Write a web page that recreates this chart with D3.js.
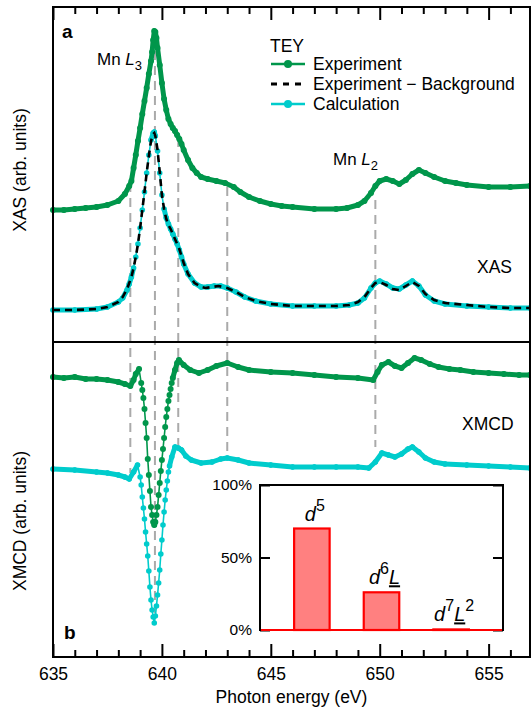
<!DOCTYPE html>
<html>
<head>
<meta charset="utf-8">
<script src="https://cdn.jsdelivr.net/npm/d3@7"></script>
<style>
  body { margin: 0; background: #fff; }
  svg text { font-family: "Liberation Sans", Arial, sans-serif; fill: #000; }
</style>
</head>
<body>
<svg id="chart" width="531" height="709"></svg>
<script>
// ---- data: [photon energy (eV), intensity (arb. units, offset as plotted)]
var xasExperiment = [[635,1.00],[635.5,1.00],[636,1.01],[636.5,1.02],[637,1.03],[637.5,1.05],[638,1.09],[638.3,1.16],[638.5,1.24],[638.6,1.29],[638.7,1.42],[638.8,1.55],[638.9,1.69],[639,1.82],[639.1,1.96],[639.2,2.09],[639.3,2.22],[639.4,2.36],[639.5,2.49],[639.55,2.58],[639.6,2.70],[639.65,2.79],[639.7,2.78],[639.75,2.72],[639.8,2.62],[639.9,2.45],[640,2.27],[640.1,2.11],[640.2,2.00],[640.3,1.91],[640.4,1.86],[640.5,1.82],[640.6,1.79],[640.7,1.75],[640.8,1.71],[640.9,1.66],[641,1.60],[641.2,1.50],[641.4,1.42],[641.6,1.37],[641.8,1.33],[642.1,1.31],[642.5,1.29],[642.9,1.27],[643.3,1.23],[643.6,1.18],[644,1.13],[644.5,1.09],[645,1.06],[645.5,1.04],[646,1.03],[647,1.01],[648,1.01],[648.5,1.02],[649,1.05],[649.3,1.09],[649.6,1.17],[649.8,1.24],[650,1.29],[650.3,1.31],[650.6,1.29],[650.9,1.26],[651.2,1.30],[651.5,1.36],[651.8,1.40],[652.1,1.37],[652.5,1.33],[653,1.29],[653.5,1.27],[654,1.25],[655,1.23],[656,1.23],[656.9,1.24]];

var xasBackground = [[635,0.00],[636,0.00],[637,0.01],[637.5,0.03],[638,0.08],[638.2,0.13],[638.4,0.21],[638.5,0.27],[638.6,0.33],[638.7,0.42],[638.8,0.53],[638.9,0.66],[639,0.82],[639.1,1.00],[639.2,1.18],[639.3,1.37],[639.4,1.54],[639.5,1.69],[639.6,1.76],[639.65,1.77],[639.7,1.74],[639.8,1.60],[639.9,1.38],[640,1.15],[640.1,1.01],[640.2,0.91],[640.3,0.85],[640.4,0.81],[640.5,0.76],[640.6,0.71],[640.7,0.66],[640.8,0.61],[640.9,0.54],[641,0.47],[641.2,0.36],[641.5,0.27],[641.8,0.23],[642,0.22],[642.3,0.23],[642.6,0.24],[643,0.22],[643.4,0.18],[643.8,0.13],[644.3,0.09],[645,0.06],[646,0.04],[647,0.04],[648,0.04],[648.6,0.05],[649,0.08],[649.3,0.13],[649.6,0.22],[649.8,0.27],[650,0.28],[650.3,0.25],[650.6,0.21],[650.9,0.20],[651.2,0.24],[651.5,0.28],[651.8,0.24],[652.1,0.16],[652.5,0.10],[653,0.07],[654,0.05],[655,0.03],[656,0.02],[656.9,0.02]];

var xasCalculation = [[635,0.00],[636,0.00],[637,0.01],[637.5,0.03],[638,0.08],[638.2,0.12],[638.4,0.20],[638.5,0.26],[638.6,0.33],[638.7,0.42],[638.8,0.53],[638.9,0.66],[639,0.82],[639.1,1.00],[639.2,1.18],[639.3,1.37],[639.4,1.55],[639.5,1.70],[639.6,1.77],[639.65,1.78],[639.7,1.74],[639.8,1.59],[639.9,1.37],[640,1.15],[640.1,1.01],[640.2,0.92],[640.3,0.86],[640.4,0.81],[640.5,0.76],[640.6,0.71],[640.7,0.66],[640.8,0.60],[640.9,0.53],[641,0.46],[641.2,0.36],[641.5,0.27],[641.8,0.23],[642.1,0.23],[642.4,0.24],[642.7,0.24],[643,0.22],[643.4,0.18],[643.8,0.13],[644.3,0.09],[645,0.06],[646,0.04],[647,0.04],[648,0.04],[648.6,0.05],[649,0.07],[649.3,0.12],[649.6,0.22],[649.8,0.27],[650,0.29],[650.3,0.26],[650.6,0.22],[650.9,0.21],[651.2,0.25],[651.5,0.29],[651.8,0.24],[652.1,0.15],[652.5,0.09],[653,0.06],[654,0.04],[655,0.03],[656,0.02],[656.9,0.02]];

var xmcdExperiment = [[635,0.92],[635.5,0.91],[636,0.92],[636.5,0.90],[637,0.90],[637.5,0.89],[638,0.87],[638.3,0.85],[638.55,0.83],[638.7,0.89],[638.8,0.95],[638.95,1.00],[639.05,0.86],[639.1,0.79],[639.15,0.71],[639.2,0.60],[639.25,0.46],[639.3,0.31],[639.35,0.10],[639.4,-0.06],[639.45,-0.22],[639.5,-0.38],[639.55,-0.46],[639.6,-0.53],[639.65,-0.56],[639.7,-0.53],[639.75,-0.46],[639.8,-0.38],[639.85,-0.26],[639.9,-0.14],[639.95,-0.02],[640,0.09],[640.05,0.20],[640.1,0.31],[640.15,0.42],[640.2,0.52],[640.25,0.60],[640.3,0.68],[640.35,0.74],[640.4,0.80],[640.45,0.86],[640.5,0.91],[640.6,0.99],[640.7,1.06],[640.78,1.09],[641,1.04],[641.3,0.99],[641.7,0.96],[642.1,0.99],[642.5,1.03],[643,1.06],[643.5,1.02],[644,0.99],[645,0.97],[646,0.96],[647,0.94],[648,0.92],[649,0.91],[649.7,0.89],[649.9,0.97],[650.1,1.04],[650.4,1.07],[650.7,1.03],[651,1.01],[651.3,1.06],[651.6,1.11],[651.9,1.09],[652.3,1.05],[652.7,1.02],[653.2,1.00],[653.7,0.99],[654.3,0.97],[655,0.96],[655.7,0.95],[656.4,0.94],[656.9,0.94]];

var xmcdCalculation = [[635,0.00],[636,-0.01],[637,-0.03],[637.5,-0.04],[638,-0.06],[638.3,-0.08],[638.5,-0.10],[638.7,-0.03],[638.88,0.04],[639,-0.08],[639.05,-0.16],[639.1,-0.28],[639.15,-0.39],[639.2,-0.50],[639.25,-0.63],[639.3,-0.75],[639.35,-0.87],[639.4,-1.02],[639.45,-1.18],[639.5,-1.31],[639.55,-1.41],[639.6,-1.48],[639.65,-1.54],[639.7,-1.47],[639.75,-1.37],[639.8,-1.26],[639.85,-1.14],[639.9,-1.01],[639.95,-0.85],[640,-0.71],[640.05,-0.56],[640.1,-0.43],[640.15,-0.31],[640.2,-0.21],[640.25,-0.12],[640.3,-0.03],[640.35,0.03],[640.45,0.12],[640.6,0.22],[640.75,0.21],[640.9,0.19],[641.1,0.13],[641.35,0.09],[641.8,0.06],[642.3,0.07],[642.7,0.10],[643,0.11],[643.5,0.09],[644,0.06],[645,0.04],[646,0.02],[647,0.02],[648,0.02],[649,0.02],[649.5,0.01],[649.8,0.07],[650.1,0.16],[650.4,0.14],[650.7,0.12],[651,0.15],[651.3,0.20],[651.5,0.22],[651.8,0.17],[652.1,0.11],[652.5,0.07],[653,0.05],[654,0.04],[655,0.03],[656,0.02],[656.9,0.01]];

// vertical guide lines: energy, top (XAS units), bottom (XMCD units)
var guideEnergies = [638.55, 639.68, 640.75, 643.0, 649.8];
var guideTops = [1.27, 2.74, 1.72, 1.23, 1.10];
var guideBottoms = [-0.04, -1.44, 0.24, 0.16, 0.22];

// inset: configuration weights
var configNames = ["d5", "d6L", "d7L2"];
var configWeights = [0.70, 0.26, 0.004];
var configLabels = [
  [["d", "base"], ["5", "sup"]],
  [["d", "base"], ["6", "sup"], ["L", "under"]],
  [["d", "base"], ["7", "sup"], ["L", "under"], ["2", "sup"]]
];
var insetTicks = [0, 0.5, 1];

var majorTicks = [635, 640, 645, 650, 655];
var minorTicks = d3.range(636, 657, 1).filter(function(d) { return d % 5 != 0; });

var green = "#00964b", cyan = "#00cccc";

// ---- layout
var plotL = 53, plotR = 530, plotT = 7, plotB = 657, plotSplit = 342;
var svg = d3.select("#chart");

var x = d3.scaleLinear().domain([635, 656.9]).range([plotL, plotR]);
var yA = d3.scaleLinear().domain([-0.32, 3.03]).range([plotSplit, plotT]);
var yB = d3.scaleLinear().domain([-1.88, 1.27]).range([plotB, plotSplit]);

// guides (behind curves)
svg.append("g").selectAll("line")
  .data(guideEnergies)
  .enter().append("line")
  .attr("x1", function(d) { return x(d); })
  .attr("x2", function(d) { return x(d); })
  .attr("y1", function(d, i) { return yA(guideTops[i]); })
  .attr("y2", function(d, i) { return yB(guideBottoms[i]); })
  .attr("stroke", "#aaa")
  .attr("stroke-width", 2)
  .attr("stroke-dasharray", "9,6");

// draws a dotted-data curve: thick where points are dense, thin between spread points
function drawSeries(data, y, color, steep, r) {
  var pts = data.map(function(d) { return [x(d[0]), y(d[1])]; });
  var g = svg.append("g");
  g.selectAll("line")
    .data(d3.pairs(pts))
    .enter().append("line")
    .attr("x1", function(d) { return d[0][0]; })
    .attr("y1", function(d) { return d[0][1]; })
    .attr("x2", function(d) { return d[1][0]; })
    .attr("y2", function(d) { return d[1][1]; })
    .attr("stroke", color)
    .attr("stroke-linecap", "round")
    .attr("stroke-width", function(d) {
      var s = Math.abs((d[1][1] - d[0][1]) / (d[1][0] - d[0][0]));
      return s > steep ? 1.6 : 5;
    });
  g.selectAll("circle")
    .data(pts)
    .enter().append("circle")
    .attr("cx", function(d) { return d[0]; })
    .attr("cy", function(d) { return d[1]; })
    .attr("r", r)
    .attr("fill", color);
}

drawSeries(xasExperiment, yA, green, Infinity, 3);
drawSeries(xasCalculation, yA, cyan, 4.5, 2.8);

svg.append("path")
  .datum(xasBackground)
  .attr("fill", "none")
  .attr("stroke", "#000")
  .attr("stroke-width", 2.6)
  .attr("stroke-dasharray", "7,5")
  .attr("d", d3.line().x(function(d) { return x(d[0]); }).y(function(d) { return yA(d[1]); }));

drawSeries(xmcdExperiment, yB, green, 4.5, 3);
drawSeries(xmcdCalculation, yB, cyan, 4.5, 2.8);

// ---- frame, divider and axes
svg.append("rect")
  .attr("x", plotL).attr("y", plotT)
  .attr("width", plotR - plotL).attr("height", plotB - plotT)
  .attr("fill", "none").attr("stroke", "#000").attr("stroke-width", 2);

svg.append("line")
  .attr("x1", plotL).attr("x2", plotR)
  .attr("y1", plotSplit).attr("y2", plotSplit)
  .attr("stroke", "#000").attr("stroke-width", 2);

function styleAxis(g) {
  g.select(".domain").remove();
  g.selectAll(".tick line").attr("stroke", "#000").attr("stroke-width", 2);
  g.selectAll(".tick text")
    .attr("font-size", 17.5)
    .attr("font-family", "Liberation Sans, Arial, sans-serif")
    .attr("fill", "#000");
}

svg.append("g")
  .attr("transform", "translate(0," + plotB + ")")
  .call(d3.axisBottom(x).tickValues(majorTicks).tickFormat(d3.format("d"))
    .tickSizeInner(-13).tickSizeOuter(0).tickPadding(11))
  .call(styleAxis);
svg.append("g")
  .attr("transform", "translate(0," + plotB + ")")
  .call(d3.axisBottom(x).tickValues(minorTicks).tickFormat("")
    .tickSizeInner(-7).tickSizeOuter(0))
  .call(styleAxis);
svg.append("g")
  .attr("transform", "translate(0," + plotT + ")")
  .call(d3.axisTop(x).tickValues(majorTicks).tickFormat("")
    .tickSizeInner(-13).tickSizeOuter(0))
  .call(styleAxis);
svg.append("g")
  .attr("transform", "translate(0," + plotT + ")")
  .call(d3.axisTop(x).tickValues(minorTicks).tickFormat("")
    .tickSizeInner(-7).tickSizeOuter(0))
  .call(styleAxis);

svg.append("text")
  .attr("x", (plotL + plotR) / 2).attr("y", 703)
  .attr("text-anchor", "middle").attr("font-size", 17.5)
  .text("Photon energy (eV)");

svg.append("text")
  .attr("transform", "translate(26,170) rotate(-90)")
  .attr("text-anchor", "middle").attr("font-size", 17.5)
  .text("XAS (arb. units)");
svg.append("text")
  .attr("transform", "translate(26,521) rotate(-90)")
  .attr("text-anchor", "middle").attr("font-size", 17.5)
  .text("XMCD (arb. units)");

// ---- annotations
svg.append("text").attr("x", 62).attr("y", 38)
  .attr("font-size", 19).attr("font-weight", "bold").text("a");
svg.append("text").attr("x", 64).attr("y", 639)
  .attr("font-size", 19).attr("font-weight", "bold").text("b");

function edgeLabel(px, py, sub) {
  var t = svg.append("text").attr("x", px).attr("y", py).attr("font-size", 17);
  t.append("tspan").text("Mn ");
  t.append("tspan").attr("font-style", "italic").text("L");
  t.append("tspan").attr("font-size", 13).attr("dy", 5).text(sub);
}
edgeLabel(97, 65, "3");
edgeLabel(333, 165, "2");

svg.append("text").attr("x", 477).attr("y", 273).attr("font-size", 17.5).text("XAS");
svg.append("text").attr("x", 462).attr("y", 430).attr("font-size", 17.5).text("XMCD");

// ---- legend
var legend = svg.append("g");
legend.append("text").attr("x", 270).attr("y", 52).attr("font-size", 17.5).text("TEY");
var legendRows = [
  { label: "Experiment", color: green, dash: null, dot: true, y: 64 },
  { label: "Experiment \u2212 Background", color: "#000", dash: "6,6", dot: false, y: 84 },
  { label: "Calculation", color: cyan, dash: null, dot: true, y: 104 }
];
legendRows.forEach(function(r) {
  legend.append("line")
    .attr("x1", 271).attr("x2", 305).attr("y1", r.y).attr("y2", r.y)
    .attr("stroke", r.color).attr("stroke-width", r.dash ? 3 : 2.5)
    .attr("stroke-dasharray", r.dash);
  if (r.dot) {
    legend.append("circle").attr("cx", 288).attr("cy", r.y).attr("r", 4).attr("fill", r.color);
  }
  legend.append("text").attr("x", 313).attr("y", r.y + 6)
    .attr("font-size", 17.5).text(r.label);
});

// ---- inset bar chart
var inL = 260, inR = 503, inT = 485, inB = 630;
var xIn = d3.scaleBand().domain(configNames).range([inL, inR]).padding(0.49);
var yIn = d3.scaleLinear().domain([0, 1]).range([inB, inT]);

var inset = svg.append("g");
inset.append("rect")
  .attr("x", inL).attr("y", inT).attr("width", inR - inL).attr("height", inB - inT)
  .attr("fill", "#fff");

inset.selectAll(".bar")
  .data(configWeights)
  .enter().append("rect")
  .attr("class", "bar")
  .attr("x", function(d, i) { return xIn(configNames[i]); })
  .attr("y", function(d) { return yIn(d); })
  .attr("width", xIn.bandwidth())
  .attr("height", function(d) { return yIn(0) - yIn(d); })
  .attr("fill", "#ff8080")
  .attr("stroke", "#ff0000")
  .attr("stroke-width", 2.2);

inset.append("g")
  .attr("transform", "translate(" + inL + ",0)")
  .call(d3.axisLeft(yIn).tickValues(insetTicks).tickFormat(d3.format(".0%"))
    .tickSizeInner(-10).tickSizeOuter(0).tickPadding(8))
  .call(function(g) {
    g.select(".domain").remove();
    g.selectAll(".tick line").attr("stroke", "#000").attr("stroke-width", 2);
    g.selectAll(".tick text").attr("font-size", 15.5)
      .attr("font-family", "Liberation Sans, Arial, sans-serif").attr("fill", "#000");
  });
inset.append("g")
  .attr("transform", "translate(" + inR + ",0)")
  .call(d3.axisRight(yIn).tickValues(insetTicks).tickFormat("")
    .tickSizeInner(-10).tickSizeOuter(0))
  .call(function(g) {
    g.select(".domain").remove();
    g.selectAll(".tick line").attr("stroke", "#000").attr("stroke-width", 2);
  });

inset.append("rect")
  .attr("x", inL).attr("y", inT).attr("width", inR - inL).attr("height", inB - inT)
  .attr("fill", "none").attr("stroke", "#000").attr("stroke-width", 2);
inset.append("line")
  .attr("x1", inL + 1).attr("x2", inR - 1).attr("y1", yIn(0)).attr("y2", yIn(0))
  .attr("stroke", "#ff0000").attr("stroke-width", 2.2);

// configuration labels
configLabels.forEach(function(parts, i) {
  var t = inset.append("text")
    .attr("x", xIn(configNames[i]) + xIn.bandwidth() / 2 + 3)
    .attr("y", yIn(configWeights[i]) - 8)
    .attr("text-anchor", "middle")
    .attr("font-size", 20);
  var raised = false;
  parts.forEach(function(p) {
    var s = t.append("tspan").text(p[0]);
    if (p[1] == "sup") {
      s.attr("font-size", 16).attr("dy", raised ? 0 : -10);
      raised = true;
    } else {
      s.attr("font-style", "italic").attr("dy", raised ? 10 : 0);
      raised = false;
      if (p[1] == "under") s.attr("text-decoration", "underline");
    }
  });
});
</script>
</body>
</html>
